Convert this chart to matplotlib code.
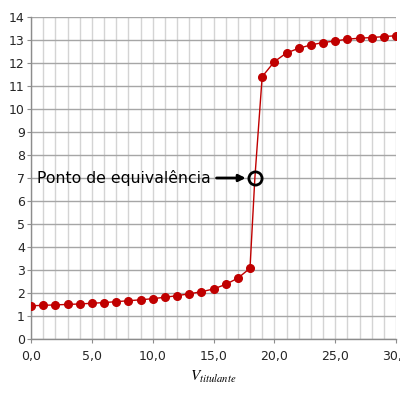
import numpy as np
import matplotlib
matplotlib.use("Agg")
import matplotlib.pyplot as plt
from matplotlib.ticker import MultipleLocator, FuncFormatter

plt.rcParams['mathtext.fontset'] = 'stix'

# titration data
volume = [0, 1, 2, 3, 4, 5, 6, 7, 8, 9, 10, 11, 12, 13, 14, 15, 16, 17, 18,
          19, 20, 21, 22, 23, 24, 25, 26, 27, 28, 29, 30]
ph = [1.45, 1.47, 1.49, 1.51, 1.53, 1.56, 1.59, 1.63, 1.67, 1.71, 1.76, 1.82,
      1.89, 1.97, 2.06, 2.18, 2.38, 2.65, 3.08,
      11.40, 12.05, 12.43, 12.63, 12.78, 12.88, 12.95, 13.03, 13.07, 13.10,
      13.14, 13.18]
# equivalence point
eq_vol = 18.4
eq_ph = 7.0
eq_label = "Ponto de equivalência"

red = "#C00000"

fig = plt.figure(figsize=(4, 4), dpi=100)
ax = fig.add_axes([0.0775, 0.152, 0.9125, 0.806])

# line goes through the equivalence point, markers only on measured points
line_x = volume[:19] + [eq_vol] + volume[19:]
line_y = ph[:19] + [eq_ph] + ph[19:]
ax.plot(line_x, line_y, color=red, lw=1, zorder=3)
ax.plot(volume, ph, ls="none", marker="o", ms=5.5, color=red, zorder=4)

# circle + arrow + text
ax.plot(eq_vol, eq_ph, ls="none", marker="o", ms=9.5, mfc="none", mec="black",
        mew=2, zorder=5)
ax.annotate("", xy=(eq_vol - 0.75, eq_ph), xytext=(eq_vol - 3.15, eq_ph),
            arrowprops=dict(arrowstyle="-|>", color="black", lw=2,
                            mutation_scale=10, shrinkA=0, shrinkB=0), zorder=5)
ax.text(eq_vol - 3.6, eq_ph, eq_label, ha="right", va="center", fontsize=11.3,
        color="black", zorder=5)

ax.set_xlim(0, 30)
ax.set_ylim(0, 14)
ax.xaxis.set_major_locator(MultipleLocator(5))
ax.xaxis.set_minor_locator(MultipleLocator(1))
ax.yaxis.set_major_locator(MultipleLocator(1))
ax.xaxis.set_major_formatter(FuncFormatter(lambda v, p: f"{v:.1f}".replace(".", ",")))

ax.grid(which="both", axis="x", color="#d4d4d4", lw=1)
ax.grid(which="major", axis="y", color="#a6a6a6", lw=1)
ax.set_axisbelow(True)

for s in ["top", "right"]:
    ax.spines[s].set_visible(False)
for s in ["left", "bottom"]:
    ax.spines[s].set_color("#8c8c8c")
    ax.spines[s].set_linewidth(1)

ax.tick_params(axis="both", which="major", length=3, color="#8c8c8c",
               labelsize=9, labelcolor="#262626")
ax.tick_params(axis="x", which="minor", length=0)
ax.tick_params(axis="y", pad=1.5)
ax.tick_params(axis="x", pad=5)

ax.set_xlabel(r"$V_{titulante}$", fontsize=11, labelpad=4)

fig.savefig("out.png", dpi=100)
